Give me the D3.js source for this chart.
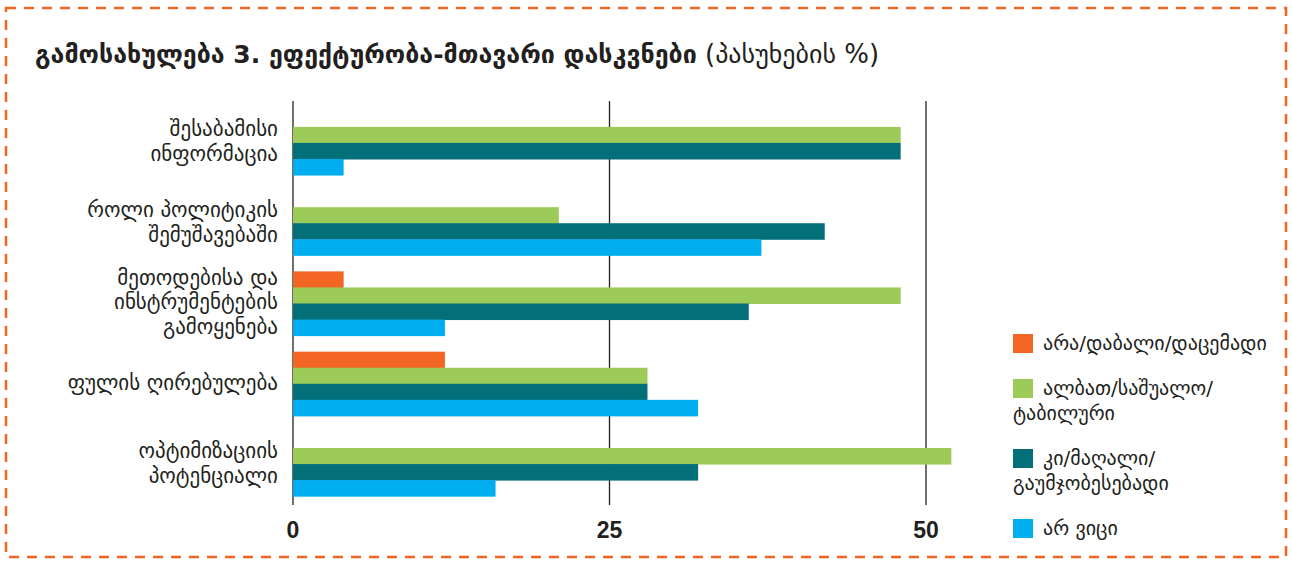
<!DOCTYPE html>
<html>
<head>
<meta charset="utf-8">
<script src="https://cdn.jsdelivr.net/npm/d3@7"></script>
<style>
  body { margin: 0; background: #fff; }
  svg text { font-family: "DejaVu Sans", "Noto Sans", sans-serif; fill: #231f20; }
</style>
</head>
<body>
<div id="chart"></div>
<script>
// category labels, already split into lines as in the source
const categories = [
    ["შესაბამისი", "ინფორმაცია"],
    ["როლი პოლიტიკის", "შემუშავებაში"],
    ["მეთოდებისა და", "ინსტრუმენტების", "გამოყენება"],
    ["ფულის ღირებულება"],
    ["ოპტიმიზაციის", "პოტენციალი"]
];
const seriesLabels = [
    ["არა/დაბალი/დაცემადი"],
    ["ალბათ/საშუალო/", "ტაბილური"],
    ["კი/მაღალი/", "გაუმჯობესებადი"],
    ["არ ვიცი"]
];
const seriesColors = ["#f26522", "#9ccb5a", "#036f78", "#00aeef"];
const valuesNo        = [0, 0, 4, 12, 0];
const valuesProbably  = [48, 21, 48, 28, 52];
const valuesYes       = [48, 42, 36, 28, 32];
const valuesDontKnow  = [4, 37, 12, 32, 16];
const xTicks = [0, 25, 50];
const titleBold = "გამოსახულება 3. ეფექტურობა-მთავარი დასკვნები";
const titleNormal = " (პასუხების %)";

const width = 1292, height = 562;
const seriesValues = [valuesNo, valuesProbably, valuesYes, valuesDontKnow];

let svg = d3.select("#chart").append("svg")
    .attr("width", width)
    .attr("height", height);

// dashed frame
svg.append("rect")
    .attr("x", 6).attr("y", 8)
    .attr("width", width - 12).attr("height", height - 13)
    .attr("fill", "none")
    .attr("stroke", "#f26522")
    .attr("stroke-width", 2.5)
    .attr("stroke-dasharray", "10,8");

// title
let title = svg.append("text")
    .attr("x", 35).attr("y", 63)
    .style("font-size", "25px");
title.append("tspan").style("font-weight", "bold").text(titleBold);
title.append("tspan").style("font-weight", "normal").style("font-size", "26px").text(titleNormal);

let x = d3.scaleLinear().domain([0, 50]).range([293, 926]);
let y = d3.scaleBand()
    .domain(d3.range(categories.length))
    .range([102, 505])
    .paddingInner(0.2)
    .paddingOuter(0.11);
let ySub = d3.scaleBand()
    .domain(d3.range(seriesValues.length))
    .range([0, y.bandwidth()]);

// vertical grid lines
svg.selectAll(".grid")
    .data(xTicks)
    .enter().append("line")
    .attr("class", "grid")
    .attr("x1", d => x(d)).attr("x2", d => x(d))
    .attr("y1", 101).attr("y2", 505)
    .attr("stroke", "#231f20")
    .attr("stroke-width", 1.3);

// bars
let groups = svg.selectAll(".group")
    .data(categories)
    .enter().append("g")
    .attr("class", "group")
    .attr("transform", (d, i) => "translate(0," + y(i) + ")");

groups.selectAll("rect")
    .data((d, i) => seriesValues.map((s, j) => ({series: j, value: s[i]})))
    .enter().append("rect")
    .attr("x", x(0))
    .attr("y", d => ySub(d.series))
    .attr("width", d => x(d.value) - x(0))
    .attr("height", ySub.bandwidth() + 0.5)
    .attr("fill", d => seriesColors[d.series]);

// category labels
groups.append("text")
    .attr("text-anchor", "end")
    .style("font-size", "21px")
    .each(function(d) {
        let lineH = 25;
        let top = y.bandwidth() / 2 - (d.length - 1) * lineH / 2 + 6;
        d3.select(this).selectAll("tspan")
            .data(d)
            .enter().append("tspan")
            .attr("x", 278)
            .attr("y", (t, k) => top + k * lineH)
            .text(t => t);
    });

// x tick labels
svg.selectAll(".tick-label")
    .data(xTicks)
    .enter().append("text")
    .attr("class", "tick-label")
    .attr("x", d => x(d))
    .attr("y", 538)
    .attr("text-anchor", "middle")
    .style("font-family", "'Liberation Sans Narrow', 'Liberation Sans', sans-serif")
    .style("font-size", "23px")
    .style("font-weight", "bold")
    .text(d => d);

// legend
let legendY = 343;
seriesLabels.forEach(function(lines, j) {
    let g = svg.append("g").attr("transform", "translate(0," + legendY + ")");
    g.append("rect")
        .attr("x", 1013).attr("y", -9)
        .attr("width", 20).attr("height", 19)
        .attr("fill", seriesColors[j]);
    let t = g.append("text").style("font-size", "20px");
    lines.forEach(function(line, k) {
        t.append("tspan")
            .attr("x", k == 0 ? 1043 : 1013)
            .attr("y", 7 + k * 25)
            .text(line);
    });
    legendY += 45 + 25 * (lines.length - 1);
});
</script>
</body>
</html>
